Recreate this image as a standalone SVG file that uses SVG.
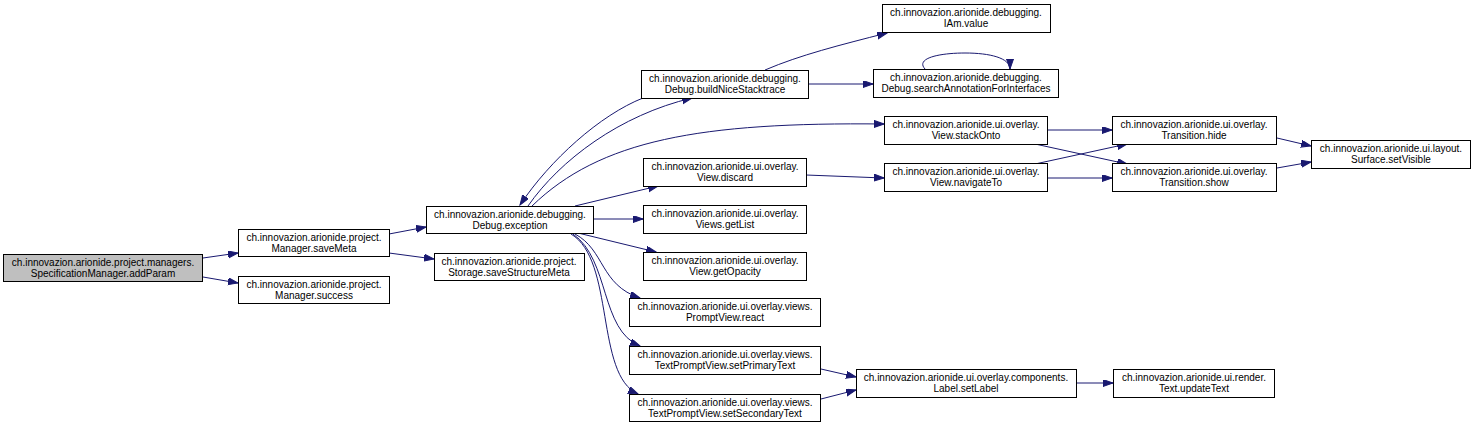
<svg xmlns="http://www.w3.org/2000/svg" width="1474" height="426" viewBox="0 0 1474 426">
<style>
.n rect{fill:#fff;stroke:#000;stroke-width:1}
.n.h rect{fill:#bfbfbf}
.n text{font-family:"Liberation Sans",Arial,sans-serif;font-size:10px;text-anchor:middle;fill:#000}
.e path{fill:none;stroke:#191970;stroke-width:1;marker-end:url(#a)}
</style>
<defs>
<marker id="a" markerUnits="userSpaceOnUse" markerWidth="11" markerHeight="8" refX="10" refY="3.5" orient="auto"><path d="M0,0 L10,3.5 L0,7 z" fill="#191970" stroke="#191970"/></marker>
</defs>
<rect width="1474" height="426" fill="#fff"/>
<g id="connectors" class="e">
<path d="M203,258 L238,253"/>
<path d="M203,277 L238,283"/>
<path d="M389,234 L426,227"/>
<path d="M389,253 L434,259"/>
<path d="M643,98 C600,115 550,160 520,205"/>
<path d="M528,206 C560,160 620,115 692,98"/>
<path d="M532,206 C600,140 700,122 884,124"/>
<path d="M575,206 L658,186"/>
<path d="M593,219 L643,219"/>
<path d="M578,233 L656,252"/>
<path d="M575,234 C605,250 600,285 640,298"/>
<path d="M573,234 C610,260 600,330 640,346"/>
<path d="M571,234 C615,260 595,375 638,394"/>
<path d="M765,70 C800,55 840,45 887,33"/>
<path d="M808,84 L873,84"/>
<path d="M925,69 C915,58 940,53 965,53 C990,53 1010,58 1010,69"/>
<path d="M806,175 L884,178"/>
<path d="M1048,130 L1112,130"/>
<path d="M1035,144 L1127,164"/>
<path d="M1035,164 L1127,144"/>
<path d="M1048,178 L1112,178"/>
<path d="M1277,138 L1311,146"/>
<path d="M1277,168 L1311,162"/>
<path d="M821,369 L856,377"/>
<path d="M821,399 L856,390"/>
<path d="M1076,383 L1113,383"/>
</g>
<g id="addParam" class="n h"><rect x="3.5" y="254.5" width="199" height="27"/><text x="103" y="266">ch.innovazion.arionide.project.managers.</text><text x="103" y="277">SpecificationManager.addParam</text></g>
<g id="saveMeta" class="n"><rect x="238.5" y="229.5" width="151" height="27"/><text x="314" y="241">ch.innovazion.arionide.project.</text><text x="314" y="252">Manager.saveMeta</text></g>
<g id="success" class="n"><rect x="238.5" y="276.5" width="151" height="27"/><text x="314" y="288">ch.innovazion.arionide.project.</text><text x="314" y="299">Manager.success</text></g>
<g id="exception" class="n"><rect x="426.5" y="206.5" width="167" height="27"/><text x="510" y="218">ch.innovazion.arionide.debugging.</text><text x="510" y="229">Debug.exception</text></g>
<g id="saveStructureMeta" class="n"><rect x="434.5" y="253.5" width="150" height="27"/><text x="509" y="265">ch.innovazion.arionide.project.</text><text x="509" y="276">Storage.saveStructureMeta</text></g>
<g id="buildNiceStacktrace" class="n"><rect x="641.5" y="70.5" width="167" height="28"/><text x="725" y="82">ch.innovazion.arionide.debugging.</text><text x="725" y="93">Debug.buildNiceStacktrace</text></g>
<g id="discard" class="n"><rect x="643.5" y="158.5" width="163" height="28"/><text x="725" y="170">ch.innovazion.arionide.ui.overlay.</text><text x="725" y="181">View.discard</text></g>
<g id="getList" class="n"><rect x="643.5" y="205.5" width="163" height="28"/><text x="725" y="217">ch.innovazion.arionide.ui.overlay.</text><text x="725" y="228">Views.getList</text></g>
<g id="getOpacity" class="n"><rect x="643.5" y="252.5" width="163" height="28"/><text x="725" y="264">ch.innovazion.arionide.ui.overlay.</text><text x="725" y="275">View.getOpacity</text></g>
<g id="react" class="n"><rect x="629.5" y="298.5" width="191" height="28"/><text x="725" y="310">ch.innovazion.arionide.ui.overlay.views.</text><text x="725" y="321">PromptView.react</text></g>
<g id="setPrimaryText" class="n"><rect x="629.5" y="346.5" width="191" height="28"/><text x="725" y="358">ch.innovazion.arionide.ui.overlay.views.</text><text x="725" y="369">TextPromptView.setPrimaryText</text></g>
<g id="setSecondaryText" class="n"><rect x="629.5" y="394.5" width="191" height="27"/><text x="725" y="406">ch.innovazion.arionide.ui.overlay.views.</text><text x="725" y="417">TextPromptView.setSecondaryText</text></g>
<g id="IAmValue" class="n"><rect x="882.5" y="4.5" width="168" height="28"/><text x="966" y="16">ch.innovazion.arionide.debugging.</text><text x="966" y="27">IAm.value</text></g>
<g id="searchAnnotation" class="n"><rect x="873.5" y="69.5" width="185" height="28"/><text x="966" y="81">ch.innovazion.arionide.debugging.</text><text x="966" y="92">Debug.searchAnnotationForInterfaces</text></g>
<g id="stackOnto" class="n"><rect x="884.5" y="116.5" width="163" height="28"/><text x="966" y="128">ch.innovazion.arionide.ui.overlay.</text><text x="966" y="139">View.stackOnto</text></g>
<g id="navigateTo" class="n"><rect x="884.5" y="163.5" width="163" height="28"/><text x="966" y="175">ch.innovazion.arionide.ui.overlay.</text><text x="966" y="186">View.navigateTo</text></g>
<g id="hide" class="n"><rect x="1112.5" y="116.5" width="164" height="28"/><text x="1194" y="128">ch.innovazion.arionide.ui.overlay.</text><text x="1194" y="139">Transition.hide</text></g>
<g id="show" class="n"><rect x="1112.5" y="163.5" width="164" height="28"/><text x="1194" y="175">ch.innovazion.arionide.ui.overlay.</text><text x="1194" y="186">Transition.show</text></g>
<g id="setVisible" class="n"><rect x="1311.5" y="140.5" width="159" height="28"/><text x="1391" y="152">ch.innovazion.arionide.ui.layout.</text><text x="1391" y="163">Surface.setVisible</text></g>
<g id="setLabel" class="n"><rect x="856.5" y="369.5" width="220" height="28"/><text x="966" y="381">ch.innovazion.arionide.ui.overlay.components.</text><text x="966" y="392">Label.setLabel</text></g>
<g id="updateText" class="n"><rect x="1113.5" y="369.5" width="161" height="28"/><text x="1194" y="381">ch.innovazion.arionide.ui.render.</text><text x="1194" y="392">Text.updateText</text></g>
</svg>
